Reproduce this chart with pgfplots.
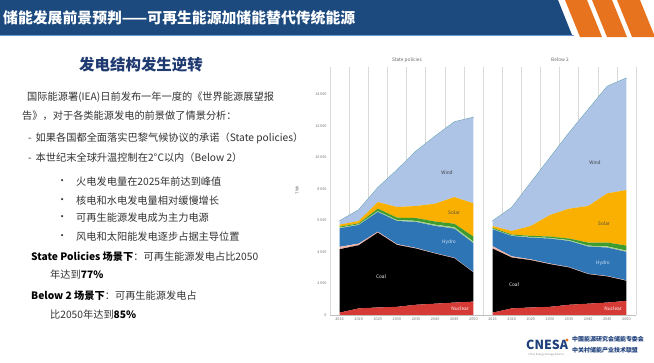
\documentclass[border=0pt]{standalone}
\usepackage{fontspec}
\setmainfont{Noto Sans CJK SC}
\usepackage{pgfplots}
\pgfplotsset{compat=1.18}
\definecolor{hdr}{HTML}{1C4A7E}
\definecolor{hdrline}{HTML}{6A9BD1}
\definecolor{orng}{HTML}{E8731E}
\definecolor{subt}{HTML}{1F3A70}
\definecolor{body}{HTML}{333333}
\definecolor{nuc}{HTML}{D63A35}
\definecolor{coal}{HTML}{000000}
\definecolor{oil}{HTML}{F2B5A8}
\definecolor{hydro}{HTML}{2E75B6}
\definecolor{oth}{HTML}{A9D18E}
\definecolor{bio}{HTML}{3E9B2F}
\definecolor{solar}{HTML}{F9B000}
\definecolor{wind}{HTML}{ADC4E6}
\definecolor{topc}{HTML}{5C9CAB}
\definecolor{logo}{HTML}{1D3F7A}
\tikzset{lbl/.style={font=\fontsize{4.8}{5}\selectfont, inner sep=0}}
\pgfplotsset{
  chartstyle/.style={
    anchor=south west, scale only axis,
    width=153bp, height=248bp,
    xmin=-0.5, xmax=7.5, ymin=0, ymax=15750,
    stack plots=y,
    xtick={0,...,7},
    xticklabels={2016,2020,2025,2030,2035,2040,2045,2050},
    minor xtick={-0.5,0.5,...,7.5},
    xminorgrids=true,
    minor grid style={black!15, line width=0.3pt},
    major tick length=0pt, minor tick length=0pt,
    axis line style={draw=none},
    scaled y ticks=false,
    /pgf/number format/assume math mode=true,
    /pgf/number format/1000 sep={\,},
    ticklabel style={font=\fontsize{3.8}{4}\selectfont, text=black!55},
    xticklabel style={yshift=1bp},
    clip=false,
  },
}
\begin{document}
\begin{tikzpicture}[x=1bp,y=1bp]
\useasboundingbox (0,0) rectangle (654,362);
\fill[white] (0,0) rectangle (654,362);
% header
\fill[hdr] (0,362) -- (558,362) -- (572,327) -- (0,327) -- cycle;
\draw[hdrline, line width=1.2bp] (0,326.5) -- (574,326.5);
\fill[orng] (565,362) -- (587,362) -- (602,325) -- (580,325) -- cycle;
\fill[orng] (592,362) -- (612,362) -- (627,325) -- (607,325) -- cycle;
\fill[orng] (617,362) -- (640,362) -- (655,325) -- (632,325) -- cycle;
\node[anchor=west, text=white, font=\fontsize{14.9}{16}\selectfont\bfseries, inner sep=0] at (3,344) {储能发展前景预判——可再生能源加储能替代传统能源};
% left text
\node[text=subt, font=\fontsize{15.5}{17}\selectfont\bfseries, inner sep=0] at (141,297) {发电结构发生逆转};
\begin{scope}[every node/.style={anchor=west, inner sep=0, text=body, font=\fontsize{10.25}{12}\selectfont}]
\node at (27,265) {国际能源署(IEA)日前发布一年一度的《世界能源展望报};
\node at (22,246) {告》，对于各类能源发电的前景做了情景分析：};
\node at (28,224) {-\, 如果各国都全面落实巴黎气候协议的承诺（State policies）};
\node at (28,204) {-\, 本世纪末全球升温控制在2°C以内（Below 2）};
\node at (57,180) {•}; \node at (76,180) {火电发电量在2025年前达到峰值};
\node at (57,161) {•}; \node at (76,161) {核电和水电发电量相对缓慢增长};
\node at (57,144) {•}; \node at (76,144) {可再生能源发电成为主力电源};
\node at (57,125) {•}; \node at (76,125) {风电和太阳能发电逐步占据主导位置};
\node at (31,105) {\textbf{\color{black}State Policies 场景下}：可再生能源发电占比2050};
\node at (50,87) {年达到\textbf{\color{black}77\%}};
\node at (31,66) {\textbf{\color{black}Below 2 场景下}：可再生能源发电占};
\node at (50,47) {比2050年达到\textbf{\color{black}85\%}};
\end{scope}
% chart titles
\node[font=\fontsize{4.8}{5}\selectfont, text=black!60] at (407,302) {State policies};
\node[font=\fontsize{4.8}{5}\selectfont, text=black!60] at (560,302) {Below 2};
\node[rotate=90, font=\fontsize{4}{5}\selectfont, text=black!60] at (297,172) {TWh};
% left chart
\begin{axis}[chartstyle, at={(330bp,47bp)},
  ytick={0,2000,...,14000}]
\addplot[fill=nuc, draw=none] coordinates {(0,150)(1,420)(2,480)(3,520)(4,650)(5,720)(6,790)(7,850)} \closedcycle;
\addplot[fill=coal, draw=none] coordinates {(0,4028)(1,4011)(2,4753)(3,3932)(4,3570)(5,3180)(6,2818)(7,1850)} \closedcycle;
\addplot[fill=oil, draw=none] coordinates {(0,150)(1,100)(2,60)(3,50)(4,40)(5,30)(6,30)(7,30)} \closedcycle;
\addplot[fill=hydro, draw=none] coordinates {(0,1179)(1,1187)(2,1248)(3,1469)(4,1648)(5,1725)(6,1848)(7,1828)} \closedcycle;
\addplot[fill=oth, draw=none] coordinates {(0,40)(1,40)(2,50)(3,60)(4,70)(5,80)(6,90)(7,100)} \closedcycle;
\addplot[fill=bio, draw=none] coordinates {(0,60)(1,60)(2,160)(3,150)(4,180)(5,200)(6,220)(7,320)} \closedcycle;
\addplot[fill=solar, draw=none] coordinates {(0,132)(1,153)(2,423)(3,677)(4,763)(5,1134)(6,1695)(7,2112)} \closedcycle;
\addplot[fill=wind, draw=none] coordinates {(0,232)(1,697)(2,907)(3,2342)(4,3481)(5,4283)(6,4768)(7,5465)} \closedcycle;
\addplot[draw=topc, line width=0.9bp] coordinates {(0,0)(1,0)(2,0)(3,0)(4,0)(5,0)(6,0)(7,0)};
\end{axis}
% right chart
\begin{axis}[chartstyle, at={(483bp,47bp)},
  ytick=\empty]
\addplot[fill=nuc, draw=none] coordinates {(0,150)(1,420)(2,480)(3,520)(4,650)(5,720)(6,790)(7,900)} \closedcycle;
\addplot[fill=coal, draw=none] coordinates {(0,4070)(1,3230)(2,3002)(3,2708)(4,2367)(5,1875)(6,1658)(7,1273)} \closedcycle;
\addplot[fill=oil, draw=none] coordinates {(0,150)(1,80)(2,50)(3,40)(4,30)(5,30)(6,30)(7,30)} \closedcycle;
\addplot[fill=hydro, draw=none] coordinates {(0,1074)(1,1292)(2,1384)(3,1585)(4,1658)(5,1722)(6,1805)(7,1806)} \closedcycle;
\addplot[fill=oth, draw=none] coordinates {(0,30)(1,30)(2,40)(3,40)(4,50)(5,60)(6,70)(7,80)} \closedcycle;
\addplot[fill=bio, draw=none] coordinates {(0,60)(1,60)(2,70)(3,90)(4,100)(5,190)(6,250)(7,320)} \closedcycle;
\addplot[fill=solar, draw=none] coordinates {(0,121)(1,226)(2,629)(3,1368)(4,1897)(5,2324)(6,3120)(7,3525)} \closedcycle;
\addplot[fill=wind, draw=none] coordinates {(0,316)(1,1477)(2,2743)(3,3629)(4,4811)(5,6119)(6,6794)(7,7110)} \closedcycle;
\addplot[draw=topc, line width=0.9bp] coordinates {(0,0)(1,0)(2,0)(3,0)(4,0)(5,0)(6,0)(7,0)};
\end{axis}
% baselines
\draw[black!25, line width=0.4pt] (330,47) -- (636,47);
% area labels
\node[lbl, text=black!75] at (447,189) {Wind};
\node[lbl, text=black!70] at (454,149) {Solar};
\node[lbl, text=hydro!20] at (449,120) {Hydro};
\node[lbl, text=white] at (381,85) {Coal};
\node[lbl, text=white] at (460,53) {Nuclear};
\node[lbl, text=black!75] at (595,199) {Wind};
\node[lbl, text=black!70] at (604,138) {Solar};
\node[lbl, text=hydro!20] at (603,99) {Hydro};
\node[lbl, text=white] at (514,77) {Coal};
\node[lbl, text=white] at (613,53) {Nuclear};
% logo
\node[anchor=west, inner sep=0, text=logo, font=\fontsize{12.5}{13}\selectfont\bfseries] at (526,17) {CNESA};
\fill[orng] (567,22) circle (1.6);
\node[anchor=west, inner sep=0, text=logo, font=\fontsize{6}{6.5}\selectfont\bfseries] at (572,22.5) {中国能源研究会储能专委会};
\node[anchor=west, inner sep=0, text=logo, font=\fontsize{6}{6.5}\selectfont\bfseries] at (572,12) {中关村储能产业技术联盟};
\node[anchor=west, inner sep=0, text=black!45, font=\fontsize{2.6}{3}\selectfont] at (528,7.5) {China Energy Storage Alliance};
\end{tikzpicture}
\end{document}
